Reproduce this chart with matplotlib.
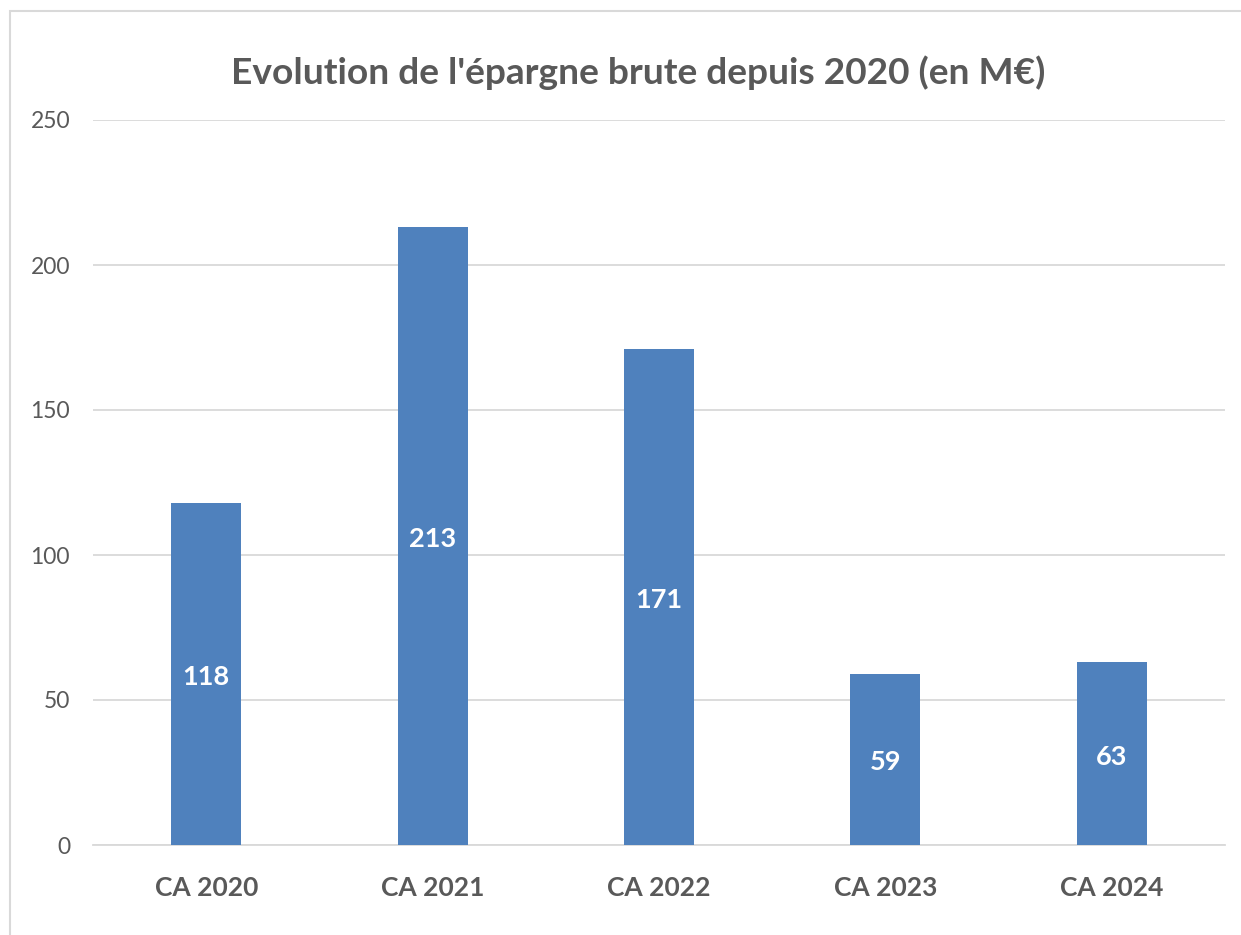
import matplotlib
matplotlib.use("Agg")
import matplotlib.pyplot as plt
from matplotlib.patches import Rectangle

categories = ["CA 2020", "CA 2021", "CA 2022", "CA 2023", "CA 2024"]
epargne = [118, 213, 171, 59, 63]
yticks = [0, 50, 100, 150, 200, 250]

plt.rcParams["font.family"] = ["Lato", "DejaVu Sans"]
grey = "#595959"
blue = "#4F81BD"

fig = plt.figure(figsize=(12.41, 9.35), dpi=100)
ax = fig.add_axes([93 / 1241, 1 - 845 / 935, (1225 - 93) / 1241, 725 / 935])

x = range(len(categories))
bars = ax.bar(x, epargne, width=0.31, color=blue, zorder=3)
for b, v in zip(bars, epargne):
    ax.text(b.get_x() + b.get_width() / 2, v / 2 - 1, str(v), ha="center", va="center",
            color="white", fontsize=19.5, fontweight="bold", zorder=4)

ax.set_xlim(-0.5, len(categories) - 0.5)
ax.set_ylim(0, 250)
ax.set_yticks(yticks)
ax.set_xticks(list(x))
ax.set_xticklabels(categories, fontsize=19, fontweight="bold", color=grey)
ax.tick_params(axis="y", labelsize=16.5, labelcolor=grey, length=0, pad=16.5)
ax.tick_params(axis="x", length=0, pad=22)
ax.grid(axis="y", color="#D9D9D9", linewidth=1.3, zorder=0)
for s in ["top", "right", "left"]:
    ax.spines[s].set_visible(False)
ax.spines["bottom"].set_color("#D9D9D9")
ax.spines["bottom"].set_linewidth(1.3)

fig.text(638 / 1241, 1 - 73 / 935, "Evolution de l'épargne brute depuis 2020 (en M€)",
         ha="center", va="center", fontsize=26.7, fontweight="bold", color=grey)

fig.patches.append(Rectangle((10 / 1241, -0.01), 1.0, 1 - 11 / 935 + 0.01,
                             transform=fig.transFigure, fill=False,
                             edgecolor="#D9D9D9", linewidth=1.5))

fig.savefig("out.png", dpi=100)
